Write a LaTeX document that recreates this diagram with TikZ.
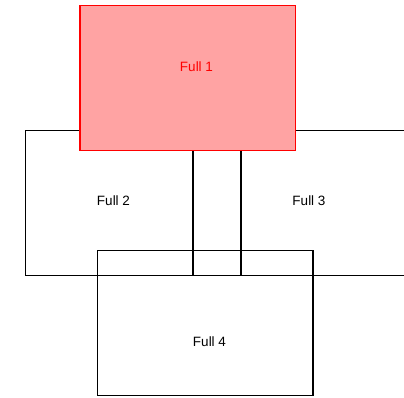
\documentclass[tikz,border=0pt]{standalone}
\usepackage{fontspec}
\setmainfont{Liberation Sans}
\definecolor{fullfill}{RGB}{255,163,163}
\definecolor{fullred}{RGB}{255,0,0}
\begin{document}
\begin{tikzpicture}[x=1pt,y=-1pt,
  box/.style={draw=black,line width=1.5pt,minimum width=215.5pt,minimum height=145pt,inner sep=0pt,outer sep=0pt,anchor=north west},
  redbox/.style={box,draw=fullred,fill=fullfill},
  lbl/.style={font=\fontsize{13.5}{15}\selectfont,inner sep=0pt}]
\useasboundingbox (0,0) rectangle (404,398);
\clip (0,0) rectangle (404,398);
\node[box] (full2) at (25.7,130.7) {};
\node[box] (full3) at (193,130.7) {};
\node[box] (full4) at (97.7,250.7) {};
\node[redbox] (full1) at (79.8,5.7) {};
\node[lbl,text=fullred] (t1) at (196.5,67) {Full 1};
\node[lbl] (t2) at (113.5,200.5) {Full 2};
\node[lbl] (t3) at (309,200.5) {Full 3};
\node[lbl] (t4) at (209.5,342) {Full 4};
\end{tikzpicture}
\end{document}
